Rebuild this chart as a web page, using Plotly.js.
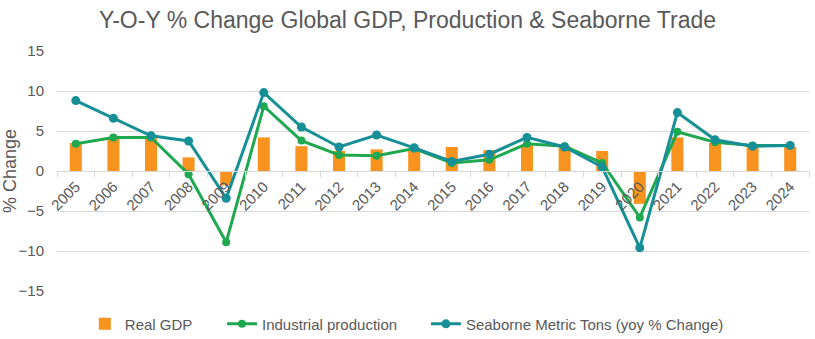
<!DOCTYPE html>
<html>
<head>
<meta charset="utf-8">
<script src="https://cdn.plot.ly/plotly-3.0.1.min.js"></script>
<style>html,body{margin:0;padding:0;background:#fff}#chart{width:815px;height:339px}</style>
</head>
<body>
<div id="chart"></div>
<script>
const years = ["2005","2006","2007","2008","2009","2010","2011","2012","2013","2014","2015","2016","2017","2018","2019","2020","2021","2022","2023","2024"];
const realGDP = [3.5,4.1,4.1,1.7,-1.8,4.2,3.1,2.5,2.7,2.9,3.0,2.6,3.3,3.1,2.5,-4.1,4.2,3.5,3.1,3.0];
const industrial = [3.4,4.2,4.2,-0.4,-8.9,8.1,3.8,2.0,1.9,2.8,1.0,1.4,3.4,3.1,1.0,-5.8,4.9,3.6,3.2,3.2];
const seaborne = [8.8,6.6,4.4,3.75,-3.4,9.8,5.5,3.0,4.5,2.9,1.2,2.1,4.2,3.0,0.5,-9.6,7.3,3.9,3.1,3.2];
const yTicks = [-15,-10,-5,0,5,10,15];

const grey = '#595959';
const traces = [
  {type:'bar', name:'Real GDP', x:years, y:realGDP, width:0.32, legend:'legend',
   marker:{color:'#F7931E'}},
  {type:'scatter', mode:'lines+markers', name:'Industrial production', x:years, y:industrial, legend:'legend2',
   line:{color:'#1FA84F', width:3}, marker:{color:'#1FA84F', size:8}},
  {type:'scatter', mode:'lines+markers', name:'Seaborne Metric Tons (yoy % Change)', x:years, y:seaborne, legend:'legend3',
   line:{color:'#178F96', width:3}, marker:{color:'#178F96', size:9}}
];
const legBase = {orientation:'h', xanchor:'left', yref:'container', y:0.044, yanchor:'middle', font:{size:15, color:grey}, bgcolor:'rgba(0,0,0,0)'};
const layout = {
  width:815, height:339,
  margin:{l:57, r:6, t:51, b:48},
  paper_bgcolor:'#fff', plot_bgcolor:'#fff',
  font:{family:'Liberation Sans, Arial, sans-serif', color:grey, size:15},
  title:{text:'Y-O-Y % Change Global GDP, Production & Seaborne Trade', x:0.5, xanchor:'center', y:0.94, yanchor:'middle',
         font:{size:23, color:grey}},
  xaxis:{type:'category', anchor:'free', position:0.5, showgrid:false, zeroline:false,
         showline:true, linecolor:'#D9D9D9', linewidth:1,
         ticks:'outside', tickson:'boundaries', ticklen:5, tickcolor:'#D9D9D9',
         tickangle:-45, tickfont:{size:15, color:grey}, range:[-0.5,19.5]},
  yaxis:{range:[-15,15], tickvals:yTicks, showgrid:true, gridcolor:'#D9D9D9', gridwidth:1,
         zeroline:false, showline:false, ticks:'', ticklabelstandoff:12,
         tickfont:{size:15, color:grey},
         title:{text:'% Change', font:{size:18, color:grey}, standoff:4}},
  showlegend:true,
  legend:Object.assign({}, legBase, {x:0.037}),
  legend2:Object.assign({}, legBase, {x:0.2194}),
  legend3:Object.assign({}, legBase, {x:0.4906}),
  bargap:0.68
};
Plotly.newPlot('chart', traces, layout, {displayModeBar:false, staticPlot:true});
</script>
</body>
</html>
